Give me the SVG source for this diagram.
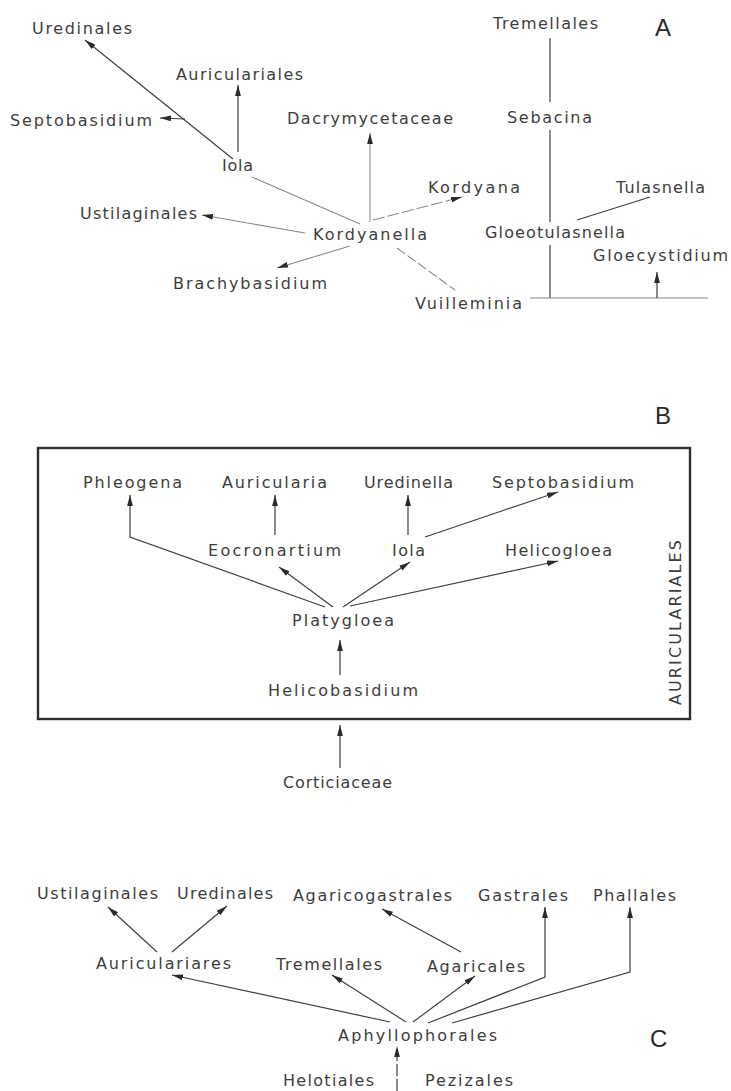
<svg xmlns="http://www.w3.org/2000/svg" width="731" height="1091" viewBox="0 0 731 1091">
  <style>
    .lbl { font-family: "DejaVu Sans", "Liberation Sans", sans-serif; font-size: 16px; fill: #3d3d3d; }
    .big { font-family: "Liberation Sans", "DejaVu Sans", sans-serif; font-size: 24px; fill: #2a2a2a; }
    .ln { fill: none; stroke: #3f3f3f; stroke-width: 1.2; }
    .faint { fill: none; stroke: #8a8a8a; stroke-width: 1.1; }
    .arr { marker-end: url(#head); }
    .box { fill: none; stroke: #2e2e2e; stroke-width: 2.4; }
  </style>
  <defs>
    <marker id="head" markerUnits="userSpaceOnUse" markerWidth="12" markerHeight="7" refX="11" refY="3.5" orient="auto">
      <path d="M0,0.6 L11,3.5 L0,6.4 z" fill="#2a2a2a"/>
    </marker>
  </defs>
  <rect width="731" height="1091" fill="#ffffff"/>

  <!-- ===== Panel A ===== -->
  <text class="big" x="655" y="36">A</text>
  <g id="a-uredinales"><text class="lbl" x="32" y="34" textLength="100" lengthAdjust="spacing">Uredinales</text></g>
  <g id="a-auriculariales"><text class="lbl" x="176" y="80" textLength="127" lengthAdjust="spacing">Auriculariales</text></g>
  <g id="a-septobasidium"><text class="lbl" x="10" y="126" textLength="142" lengthAdjust="spacing">Septobasidium</text></g>
  <g id="a-dacrymycetaceae"><text class="lbl" x="287" y="124" textLength="166" lengthAdjust="spacing">Dacrymycetaceae</text></g>
  <g id="a-iola"><text class="lbl" x="222" y="171" textLength="31" lengthAdjust="spacing">Iola</text></g>
  <g id="a-ustilaginales"><text class="lbl" x="80" y="219" textLength="117" lengthAdjust="spacing">Ustilaginales</text></g>
  <g id="a-kordyanella"><text class="lbl" x="313" y="240" textLength="114" lengthAdjust="spacing">Kordyanella</text></g>
  <g id="a-brachybasidium"><text class="lbl" x="173" y="289" textLength="154" lengthAdjust="spacing">Brachybasidium</text></g>
  <g id="a-kordyana"><text class="lbl" x="428" y="193" textLength="92" lengthAdjust="spacing">Kordyana</text></g>
  <g id="a-vuilleminia"><text class="lbl" x="415" y="309" textLength="107" lengthAdjust="spacing">Vuilleminia</text></g>
  <g id="a-tremellales"><text class="lbl" x="493" y="29" textLength="105" lengthAdjust="spacing">Tremellales</text></g>
  <g id="a-sebacina"><text class="lbl" x="507" y="123" textLength="85" lengthAdjust="spacing">Sebacina</text></g>
  <g id="a-tulasnella"><text class="lbl" x="616" y="193" textLength="89" lengthAdjust="spacing">Tulasnella</text></g>
  <g id="a-gloeotulasnella"><text class="lbl" x="485" y="238" textLength="140" lengthAdjust="spacing">Gloeotulasnella</text></g>
  <g id="a-gloecystidium"><text class="lbl" x="593" y="261" textLength="135" lengthAdjust="spacing">Gloecystidium</text></g>

  <g id="a-connectors">
    <line class="ln arr" x1="233" y1="159" x2="85" y2="40"/>
    <line class="ln arr" x1="238" y1="152" x2="238" y2="85"/>
    <line class="ln arr" x1="185" y1="119" x2="160" y2="118"/>
    <line class="faint" x1="252" y1="177" x2="360" y2="224"/>
    <line class="faint arr" x1="305" y1="233" x2="202" y2="215"/>
    <line class="faint arr" x1="350" y1="246" x2="277" y2="268"/>
    <line class="faint arr" x1="370" y1="222" x2="370" y2="133"/>
    <line class="faint arr" x1="373" y1="220" x2="462" y2="197" stroke-dasharray="12 3"/>
    <line class="faint" x1="397" y1="248" x2="455" y2="290" stroke-dasharray="10 3"/>
    <line class="ln" x1="550" y1="38" x2="550" y2="102"/>
    <line class="ln" x1="550" y1="130" x2="550" y2="222"/>
    <line class="ln" x1="550" y1="245" x2="550" y2="298"/>
    <line class="faint" x1="530" y1="298" x2="708" y2="298"/>
    <line class="ln" x1="577" y1="220" x2="650" y2="197"/>
    <line class="ln arr" x1="657" y1="298" x2="657" y2="272"/>
  </g>

  <!-- ===== Panel B ===== -->
  <text class="big" x="655" y="424">B</text>
  <g id="b-frame">
    <rect class="box" x="38" y="448" width="652" height="271"/>
    <text class="lbl" transform="translate(681,705) rotate(-90)" x="0" y="0" textLength="165" lengthAdjust="spacing" font-size="17">AURICULARIALES</text>
  </g>
  <g id="b-phleogena"><text class="lbl" x="83" y="488" textLength="99" lengthAdjust="spacing">Phleogena</text></g>
  <g id="b-auricularia"><text class="lbl" x="222" y="488" textLength="105" lengthAdjust="spacing">Auricularia</text></g>
  <g id="b-uredinella"><text class="lbl" x="364" y="488" textLength="89" lengthAdjust="spacing">Uredinella</text></g>
  <g id="b-septobasidium"><text class="lbl" x="492" y="488" textLength="142" lengthAdjust="spacing">Septobasidium</text></g>
  <g id="b-eocronartium"><text class="lbl" x="208" y="556" textLength="133" lengthAdjust="spacing">Eocronartium</text></g>
  <g id="b-iola"><text class="lbl" x="392" y="556" textLength="33" lengthAdjust="spacing">Iola</text></g>
  <g id="b-helicogloea"><text class="lbl" x="505" y="556" textLength="107" lengthAdjust="spacing">Helicogloea</text></g>
  <g id="b-platygloea"><text class="lbl" x="292" y="626" textLength="102" lengthAdjust="spacing">Platygloea</text></g>
  <g id="b-helicobasidium"><text class="lbl" x="268" y="696" textLength="150" lengthAdjust="spacing">Helicobasidium</text></g>
  <g id="b-corticiaceae"><text class="lbl" x="283" y="788" textLength="109" lengthAdjust="spacing">Corticiaceae</text></g>

  <g id="b-connectors">
    <polyline class="ln arr" points="325,607 130,537 130,495"/>
    <line class="ln arr" x1="275" y1="535" x2="275" y2="495"/>
    <line class="ln arr" x1="408" y1="535" x2="408" y2="495"/>
    <line class="ln arr" x1="425" y1="537" x2="558" y2="492"/>
    <line class="ln arr" x1="333" y1="607" x2="279" y2="567"/>
    <line class="ln arr" x1="343" y1="607" x2="410" y2="562"/>
    <line class="ln arr" x1="350" y1="606" x2="558" y2="561"/>
    <line class="ln arr" x1="340" y1="675" x2="340" y2="640"/>
    <line class="ln arr" x1="340" y1="768" x2="340" y2="725"/>
  </g>

  <!-- ===== Panel C ===== -->
  <text class="big" x="650" y="1047">C</text>
  <g id="c-ustilaginales"><text class="lbl" x="37" y="899" textLength="121" lengthAdjust="spacing">Ustilaginales</text></g>
  <g id="c-uredinales"><text class="lbl" x="177" y="899" textLength="96" lengthAdjust="spacing">Uredinales</text></g>
  <g id="c-agaricogastrales"><text class="lbl" x="293" y="901" textLength="159" lengthAdjust="spacing">Agaricogastrales</text></g>
  <g id="c-gastrales"><text class="lbl" x="478" y="901" textLength="90" lengthAdjust="spacing">Gastrales</text></g>
  <g id="c-phallales"><text class="lbl" x="593" y="901" textLength="83" lengthAdjust="spacing">Phallales</text></g>
  <g id="c-auriculariares"><text class="lbl" x="96" y="969" textLength="135" lengthAdjust="spacing">Auriculariares</text></g>
  <g id="c-tremellales"><text class="lbl" x="276" y="970" textLength="106" lengthAdjust="spacing">Tremellales</text></g>
  <g id="c-agaricales"><text class="lbl" x="427" y="972" textLength="98" lengthAdjust="spacing">Agaricales</text></g>
  <g id="c-aphyllophorales"><text class="lbl" x="338" y="1041" textLength="159" lengthAdjust="spacing">Aphyllophorales</text></g>
  <g id="c-helotiales"><text class="lbl" x="283" y="1086" textLength="91" lengthAdjust="spacing">Helotiales</text></g>
  <g id="c-pezizales"><text class="lbl" x="425" y="1086" textLength="88" lengthAdjust="spacing">Pezizales</text></g>

  <g id="c-connectors">
    <line class="ln arr" x1="157" y1="952" x2="108" y2="907"/>
    <line class="ln arr" x1="172" y1="952" x2="227" y2="906"/>
    <line class="ln arr" x1="461" y1="952" x2="382" y2="909"/>
    <line class="ln arr" x1="390" y1="1022" x2="172" y2="975"/>
    <line class="ln arr" x1="406" y1="1022" x2="332" y2="975"/>
    <line class="ln arr" x1="413" y1="1022" x2="475" y2="976"/>
    <polyline class="ln arr" points="428,1023 545,977 545,907"/>
    <polyline class="ln arr" points="452,1023 630,972 630,907"/>
    <line class="ln arr" x1="397" y1="1091" x2="397" y2="1046" stroke-dasharray="12 3"/>
  </g>
</svg>
